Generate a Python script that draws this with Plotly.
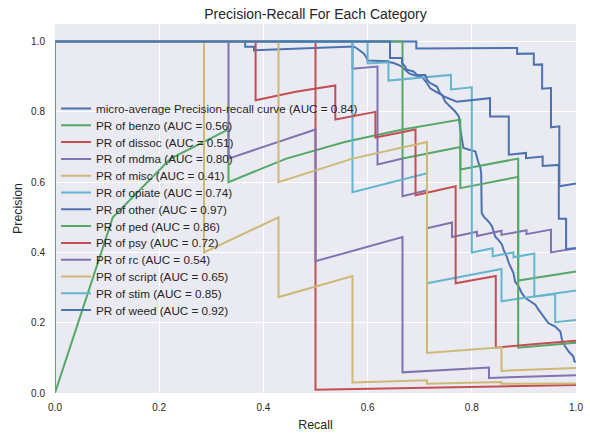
import plotly.graph_objects as go

# ---------------- data ----------------
labels = ["micro-average Precision-recall curve (AUC = 0.84)",
          "PR of benzo (AUC = 0.56)", "PR of dissoc (AUC = 0.51)",
          "PR of mdma (AUC = 0.80)", "PR of misc (AUC = 0.41)",
          "PR of opiate (AUC = 0.74)", "PR of other (AUC = 0.97)",
          "PR of ped (AUC = 0.86)", "PR of psy (AUC = 0.72)",
          "PR of rc (AUC = 0.54)", "PR of script (AUC = 0.65)",
          "PR of stim (AUC = 0.85)", "PR of weed (AUC = 0.92)"]

micro_r = [0, 0.365, 0.365, 0.382, 0.382, 0.573, 0.579, 0.586, 0.592, 0.597, 0.600, 0.640,
           0.643, 0.650, 0.663, 0.672, 0.679, 0.688, 0.704, 0.714, 0.720, 0.730, 0.743, 0.749,
           0.759, 0.768, 0.775, 0.778, 0.784, 0.797, 0.807, 0.813, 0.816, 0.818, 0.819, 0.823,
           0.832, 0.839, 0.845, 0.851, 0.858, 0.861, 0.867, 0.871, 0.877, 0.880, 0.883, 0.890,
           0.896, 0.903, 0.912, 0.922, 0.928, 0.938, 0.947, 0.960, 0.970, 0.973, 0.979, 0.986,
           0.995, 0.997, 1.0]
micro_p = [1.0, 1.0, 0.985, 0.985, 0.975, 0.986, 0.981, 0.974, 0.967, 0.957, 0.946, 0.944,
           0.941, 0.939, 0.931, 0.920, 0.910, 0.905, 0.900, 0.882, 0.867, 0.858, 0.848, 0.829,
           0.815, 0.801, 0.787, 0.749, 0.697, 0.692, 0.687, 0.654, 0.645, 0.626, 0.512, 0.502,
           0.488, 0.474, 0.445, 0.436, 0.422, 0.407, 0.389, 0.370, 0.351, 0.341, 0.317, 0.303,
           0.284, 0.270, 0.261, 0.251, 0.237, 0.218, 0.199, 0.189, 0.175, 0.152, 0.133, 0.118,
           0.104, 0.090, 0.089]

benzo_r = [0, 0, 0.111, 0.222, 0.333, 0.333, 0.444, 0.556, 0.667, 0.778, 0.778, 0.889, 0.889, 1.0]
benzo_p = [1.0, 0.0, 0.5, 0.667, 0.75, 0.6, 0.667, 0.714, 0.75, 0.778, 0.583, 0.615, 0.32, 0.346]

dissoc_r = [0, 0.5, 0.5, 1.0]
dissoc_p = [1.0, 1.0, 0.0094, 0.023]

mdma_r = [0, 0.571, 0.571, 0.619, 0.619, 0.667, 0.667, 0.714, 0.714, 0.762, 0.762, 0.810,
          0.810, 0.857, 0.857, 0.905, 0.905, 0.952, 0.952, 1.0]
mdma_p = [1.0, 1.0, 0.923, 0.929, 0.65, 0.667, 0.56, 0.577, 0.469, 0.485, 0.444, 0.459,
          0.447, 0.4615, 0.45, 0.463, 0.452, 0.465, 0.40, 0.412]

misc_r = [0, 0.286, 0.286, 0.429, 0.429, 0.571, 0.571, 0.714, 0.714, 0.857, 0.857, 1.0]
misc_p = [1.0, 1.0, 0.4, 0.5, 0.273, 0.333, 0.030, 0.036, 0.0265, 0.031, 0.026, 0.027]

opiate_r = [0, 0.571, 0.571, 0.714, 0.714, 0.857, 0.857, 1.0]
opiate_p = [1.0, 1.0, 0.571, 0.625, 0.3125, 0.353, 0.261, 0.292]

other_r = [0, 0.6935, 0.6935, 0.887, 0.887, 0.919, 0.919, 0.935, 0.935, 0.952, 0.952,
           0.968, 0.968, 1.0]
other_p = [1.0, 1.0, 0.980, 0.982, 0.965, 0.966, 0.934, 0.935, 0.866, 0.868, 0.756,
           0.759, 0.588, 0.596]

ped_r = [0, 0.667, 0.667, 0.778, 0.778, 0.889, 0.889, 1.0]
ped_p = [1.0, 1.0, 0.667, 0.7, 0.636, 0.667, 0.129, 0.143]

psy_r = [0, 0.385, 0.385, 0.462, 0.538, 0.538, 0.615, 0.615, 0.692, 0.692, 0.769, 0.769,
         0.846, 0.846, 0.923, 1.0]
psy_p = [1.0, 1.0, 0.833, 0.857, 0.875, 0.778, 0.8, 0.727, 0.75, 0.5625, 0.588, 0.3125,
         0.333, 0.129, 0.1395, 0.149]

rc_r = [0, 0.333, 0.333, 0.5, 0.5, 0.667, 0.667, 0.833, 0.833, 1.0]
rc_p = [1.0, 1.0, 0.667, 0.75, 0.375, 0.444, 0.0588, 0.0725, 0.0427, 0.0508]

script_r = [0, 0.429, 0.429, 0.571, 0.714, 0.714, 0.857, 0.857, 1.0]
script_p = [1.0, 1.0, 0.6, 0.667, 0.714, 0.114, 0.130, 0.063, 0.071]

stim_r = [0, 0.6, 0.6, 0.64, 0.64, 0.68, 0.72, 0.76, 0.76, 0.8, 0.8, 0.84, 0.84, 0.88, 0.88,
          0.92, 0.92, 0.96, 0.96, 1.0]
stim_p = [1.0, 1.0, 0.9375, 0.941, 0.889, 0.895, 0.9, 0.905, 0.864, 0.870, 0.4, 0.412,
          0.389, 0.4, 0.386, 0.397, 0.274, 0.282, 0.2017, 0.208]

weed_r = [0, 0.643, 0.643, 0.666, 0.666, 0.672, 0.675, 0.688, 0.695, 0.711, 0.714, 0.720,
          0.733, 0.739, 0.746, 0.762, 0.771, 0.835, 0.835, 0.871, 0.871, 0.904, 0.904,
          0.936, 0.936, 0.967, 0.967, 0.981, 0.981, 1.0]
weed_p = [1.0, 1.0, 0.953, 0.953, 0.939, 0.929, 0.920, 0.915, 0.905, 0.905, 0.891, 0.882,
          0.872, 0.853, 0.844, 0.834, 0.829, 0.839, 0.787, 0.787, 0.678, 0.683, 0.668,
          0.673, 0.646, 0.649, 0.496, 0.496, 0.410, 0.412]

curves = [(micro_r, micro_p), (benzo_r, benzo_p), (dissoc_r, dissoc_p), (mdma_r, mdma_p),
          (misc_r, misc_p), (opiate_r, opiate_p), (other_r, other_p), (ped_r, ped_p),
          (psy_r, psy_p), (rc_r, rc_p), (script_r, script_p), (stim_r, stim_p),
          (weed_r, weed_p)]

palette = ["#4C72B0", "#55A868", "#C44E52", "#8172B2", "#CCB974", "#64B5CD"]

x_ticks = [0.0, 0.2, 0.4, 0.6, 0.8, 1.0]
y_ticks = [0.0, 0.2, 0.4, 0.6, 0.8, 1.0]

# ---------------- layout constants ----------------
FONT = "Liberation Sans, Arial, sans-serif"
TXT = "#262626"
W, H = 590, 435
ML, MR, MT, MB = 55, 14, 24, 42
PH = H - MT - MB                    # plot height in px
LEG_TOP = 108.5                     # centre of first legend row (px)
LEG_STEP = 16.8                     # row spacing (px)
LEG_X = 0.002

fig = go.Figure()
layout_legends = {}
for i, ((r, p), name) in enumerate(zip(curves, labels)):
    key = "legend" if i == 0 else f"legend{i + 1}"
    fig.add_trace(go.Scatter(x=r, y=p, mode="lines", name=name, legend=key,
                             line=dict(color=palette[i % 6], width=2)))
    yc = LEG_TOP + LEG_STEP * i
    layout_legends[key] = dict(x=LEG_X, y=1 - (yc - MT) / PH, xanchor="left",
                               yanchor="middle", bgcolor="rgba(0,0,0,0)",
                               borderwidth=0, font=dict(size=11.7, color=TXT))

fig.update_layout(
    template="none",
    width=W, height=H, autosize=False,
    margin=dict(l=ML, r=MR, t=MT, b=MB, pad=0),
    paper_bgcolor="white", plot_bgcolor="#EAEAF2",
    font=dict(family=FONT, color=TXT, size=10),
    title=dict(text="Precision-Recall For Each Category", x=0.5, xref="paper",
               xanchor="center", y=1 - 14 / H, yanchor="middle", yref="container",
               font=dict(size=14, color=TXT)),
    showlegend=True,
    **layout_legends,
)
fig.update_xaxes(range=[0, 1], tickvals=x_ticks, tickformat=".1f", automargin=False,
                 showgrid=True, gridcolor="white", gridwidth=1.3,
                 zeroline=False, showline=False, ticks="",
                 ticklabelstandoff=7, tickfont=dict(size=10, color=TXT),
                 title=dict(text="Recall", font=dict(size=12.4, color=TXT), standoff=8))
fig.update_yaxes(range=[0, 1.05], tickvals=y_ticks, tickformat=".1f", automargin=False,
                 showgrid=True, gridcolor="white", gridwidth=1.3,
                 zeroline=False, showline=False, ticks="",
                 ticklabelstandoff=9, tickfont=dict(size=10, color=TXT),
                 title=dict(text="Precision", font=dict(size=12.4, color=TXT), standoff=5))

fig.write_html("out.html", config={"displayModeBar": False, "responsive": False},
               post_script="document.body.style.margin='0';document.body.style.overflow='hidden';")
